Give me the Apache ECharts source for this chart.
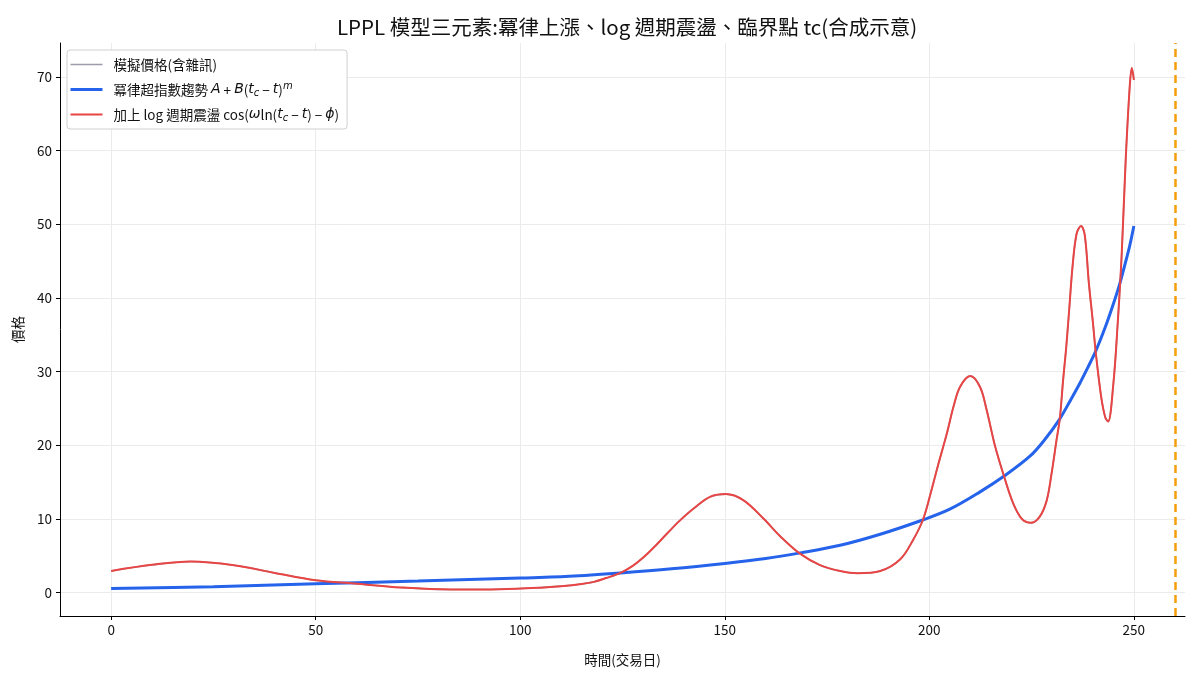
<!DOCTYPE html>
<html>
<head>
<meta charset="utf-8">
<script src="https://cdn.jsdelivr.net/npm/echarts@6/dist/echarts.min.js"></script>
<style>
  html, body { margin: 0; padding: 0; background: #fff; }
  #chart { width: 1200px; height: 675px; }
</style>
</head>
<body>
<div id="chart"></div>
<script>
// values
const xTicks = [0, 50, 100, 150, 200, 250];
const yTicks = [0, 10, 20, 30, 40, 50, 60, 70];
const criticalTime = 260;

// power-law trend A + B(tc - t)^m
const trendDays = [0, 25, 50, 75, 100, 112, 124.5, 137, 150, 160, 168.5, 178.2, 188, 198.2, 205, 212.4, 218.3, 224.6, 228, 231.7, 234.3, 236.8, 238.8, 240.7, 243, 245, 246.6, 248, 249, 250];
const trendPrice = [0.53, 0.78, 1.18, 1.55, 1.95, 2.2, 2.65, 3.2, 3.93, 4.6, 5.37, 6.4, 7.9, 9.8, 11.3, 13.65, 15.8, 18.5, 20.6, 23.4, 25.9, 28.4, 30.6, 32.8, 36.0, 39.2, 42, 44.9, 47.1, 49.75];

// trend plus log-periodic oscillation
const oscDays = [0, 10, 19.5, 30, 40, 50, 59.4, 70.8, 83, 95, 105, 110, 115, 118, 121, 124.5, 127.5, 130.2, 133, 135.9, 139, 142.4, 146.5, 150.3, 154.6, 159.5, 163.6, 168.3, 173.3, 178.2, 182.5, 188, 192.9, 196.1, 198.4, 200.2, 202.2, 204.3, 205.9, 207.5, 210, 212.4, 214, 216.1, 218.3, 220.5, 222.6, 224.8, 227, 228.7, 229.9, 231.1, 231.9, 232.7, 233.5, 234.3, 235, 236, 237.1, 238, 239, 240, 240.7, 242, 243, 243.7, 245, 246, 247, 248, 249, 249.5, 250];
const oscPrice = [2.92, 3.75, 4.2, 3.7, 2.65, 1.66, 1.21, 0.67, 0.39, 0.43, 0.65, 0.85, 1.15, 1.43, 1.95, 2.65, 3.6, 4.8, 6.3, 8.0, 9.75, 11.4, 13.0, 13.35, 12.5, 10.0, 7.6, 5.3, 3.7, 2.9, 2.6, 2.9, 4.5, 7.2, 9.8, 13.2, 17.4, 21.6, 25.2, 27.9, 29.4, 27.9, 24.8, 19.8, 15.7, 12.1, 10.0, 9.45, 10.3, 12.5, 16.2, 20.7, 23.6, 28.8, 33.5, 39.2, 44.2, 48.7, 49.75, 48.5, 42, 36.6, 32.5, 26.6, 23.8, 23.2, 28.4, 36.1, 45.6, 58.7, 68.8, 71.2, 69.6];

// simulated noisy price (noise is too small to see under the red curve)
const noisyDays = oscDays;
const noisyPrice = oscPrice;

const legendNames = {
    noisy: '模擬價格(含雜訊)',
    trend: '冪律超指數趨勢 {i|A} + {i|B}({i|t}{sub|c} − {i|t}){sup|m}',
    osc: '加上 log 週期震盪 cos({i|ω}ln({i|t}{sub|c} − {i|t}) − {i|ϕ})'
};

function pairs(xs, ys) {
    return xs.map((x, i) => [x, ys[i]]);
}

const font = '"Noto Sans CJK TC", "Noto Sans", sans-serif';
const chart = echarts.init(document.getElementById('chart'));

const option = {
    animation: false,
    backgroundColor: '#fff',
    textStyle: { fontFamily: font },
    title: {
        text: 'LPPL 模型三元素:冪律上漲、log 週期震盪、臨界點 tc(合成示意)',
        left: 622,
        top: 12,
        textAlign: 'center',
        textStyle: { fontSize: 20.5, fontWeight: 'normal', color: '#111', fontFamily: font }
    },
    legend: {
        orient: 'vertical',
        left: 67,
        top: 50,
        padding: [6, 8, 6, 2],
        itemGap: 8,
        itemWidth: 32,
        itemHeight: 15,
        backgroundColor: '#fff',
        borderColor: '#d0d0d0',
        borderWidth: 1,
        borderRadius: 3,
        itemStyle: { opacity: 0 },
        data: [
            { name: 'noisy', lineStyle: { width: 1.6 } },
            { name: 'trend', lineStyle: { width: 3 } },
            { name: 'osc', lineStyle: { width: 2 } }
        ],
        formatter: name => legendNames[name],
        textStyle: {
            fontSize: 13.5,
            color: '#111',
            fontFamily: font,
            lineHeight: 17,
            padding: [0, 0, 0, 6],
            rich: {
                i: { fontStyle: 'italic', fontFamily: 'DejaVu Sans', fontSize: 14 },
                sub: { fontStyle: 'italic', fontFamily: 'DejaVu Sans', fontSize: 10, verticalAlign: 'bottom', padding: [5, 0, 0, 0] },
                sup: { fontStyle: 'italic', fontFamily: 'DejaVu Sans', fontSize: 10, verticalAlign: 'top', padding: [0, 0, 6, 0] }
            }
        }
    },
    grid: { left: 60, right: 15, top: 43, bottom: 59, containLabel: false },
    xAxis: {
        type: 'value',
        min: -12.5,
        max: 262.5,
        name: '時間(交易日)',
        nameLocation: 'middle',
        nameGap: 37,
        nameTextStyle: { fontSize: 13.5, color: '#111' },
        axisLine: { onZero: false, lineStyle: { color: '#000', width: 1 } },
        axisTick: { show: true, customValues: xTicks, length: 4, lineStyle: { color: '#000' } },
        axisLabel: { customValues: xTicks, fontSize: 13.5, color: '#111', margin: 7 },
        splitLine: { show: true, lineStyle: { color: '#ebebeb', width: 1 } }
    },
    yAxis: {
        type: 'value',
        min: -3.2,
        max: 74.6,
        name: '價格',
        nameLocation: 'middle',
        nameGap: 35,
        nameTextStyle: { fontSize: 13.5, color: '#111' },
        axisLine: { show: true, onZero: false, lineStyle: { color: '#000', width: 1 } },
        axisTick: { show: true, customValues: yTicks, length: 4, lineStyle: { color: '#000' } },
        axisLabel: { customValues: yTicks, fontSize: 13.5, color: '#111', margin: 8 },
        splitLine: { show: true, lineStyle: { color: '#ebebeb', width: 1 } }
    },
    series: [
        {
            name: 'noisy',
            type: 'line',
            data: pairs(noisyDays, noisyPrice),
            smooth: 0.35,
            symbol: 'none',
            lineStyle: { color: '#9c9cac', width: 1.6 },
            itemStyle: { color: '#9c9cac' },
            z: 1
        },
        {
            name: 'trend',
            type: 'line',
            data: pairs(trendDays, trendPrice),
            smooth: 0.35,
            symbol: 'none',
            lineStyle: { color: '#2563eb', width: 3 },
            itemStyle: { color: '#2563eb' },
            z: 2
        },
        {
            name: 'osc',
            type: 'line',
            data: pairs(oscDays, oscPrice),
            smooth: 0.35,
            symbol: 'none',
            lineStyle: { color: '#e84545', width: 2 },
            itemStyle: { color: '#e84545' },
            z: 3,
            markLine: {
                silent: true,
                symbol: 'none',
                label: { show: false },
                lineStyle: { color: '#f59e0b', type: [8, 5], width: 2.5 },
                data: [{ xAxis: criticalTime }]
            }
        }
    ]
};

chart.setOption(option);
</script>
</body>
</html>
